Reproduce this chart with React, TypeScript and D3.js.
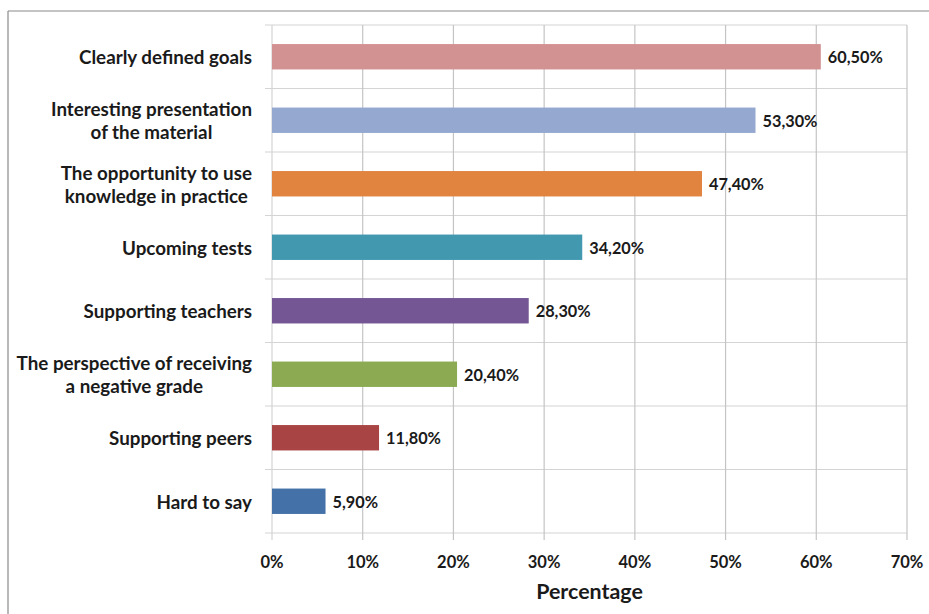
import React from "react";
import * as d3 from "d3";

const categories = [
  ["Clearly defined goals"],
  ["Interesting presentation", "of the material"],
  ["The opportunity to use", "knowledge in practice"],
  ["Upcoming tests"],
  ["Supporting teachers"],
  ["The perspective of receiving", "a negative grade"],
  ["Supporting peers"],
  ["Hard to say"],
];
const values = [60.5, 53.3, 47.4, 34.2, 28.3, 20.4, 11.8, 5.9];
const colors = ["#D39292", "#95A9D0", "#E0843F", "#4299AF", "#735693", "#8CAA52", "#A84444", "#4472A8"];
const xTicks = [0, 10, 20, 30, 40, 50, 60, 70];
const axisTitle = "Percentage";

const W = 929;
const H = 614;
const left = 272;
const right = 907;
const top = 25;
const bottom = 533;
const FONT = "Lato, 'Open Sans', sans-serif";
const CAT_FS = 18.8;

function CategoryLabel({ lines, cy }: { lines: string[]; cy: number }) {
  const ref = React.useRef<SVGTextElement>(null);
  const [w, setW] = React.useState(0);
  React.useEffect(() => {
    if (ref.current && lines.length > 1) setW(ref.current.getComputedTextLength());
  }, [lines]);
  const lh = 23;
  const multi = lines.length > 1 && w > 0;
  return (
    <g>
      {lines.map((ln, j) => (
        <text
          key={j}
          ref={j === 0 ? ref : undefined}
          x={multi ? 252 - w / 2 : 252}
          y={cy + (j - (lines.length - 1) / 2) * lh}
          dominantBaseline="central"
          textAnchor={multi ? "middle" : "end"}
          fontSize={CAT_FS}
          fontWeight="bold"
          fill="#1a1a1a"
        >
          {ln}
        </text>
      ))}
    </g>
  );
}

export default function App() {
  const x = d3.scaleLinear().domain([0, 70]).range([left, right]);
  const y = d3
    .scaleBand<number>()
    .domain(d3.range(categories.length))
    .range([top, bottom])
    .paddingInner(0.6)
    .paddingOuter(0.3);
  const step = y.step();
  const bounds = d3.range(categories.length + 1).map((i) => top + i * step);
  const fmt = (v: number) => v.toFixed(2).replace(".", ",") + "%";

  return (
    <svg
      width={W}
      height={H}
      style={{ position: "absolute", left: 0, top: 0, background: "#fff" }}
      fontFamily={FONT}
    >
      <line x1={8} y1={11} x2={W} y2={11} stroke="#8a8a8a" strokeWidth={1.2} />
      <line x1={8} y1={11} x2={8} y2={H} stroke="#8a8a8a" strokeWidth={1.2} />
      {bounds.map((b, i) => (
        <line key={"h" + i} x1={265} x2={right} y1={b} y2={b} stroke="#d4d4d4" strokeWidth={1.2} />
      ))}
      {xTicks.map((t) => (
        <line key={"v" + t} x1={x(t)} x2={x(t)} y1={top} y2={bottom + 7} stroke={t === 0 ? "#d4d4d4" : "#c4c4c4"} strokeWidth={1.2} />
      ))}
      {values.map((v, i) => (
        <rect key={"b" + i} x={x(0)} y={y(i)} width={x(v) - x(0)} height={y.bandwidth()} fill={colors[i]} />
      ))}
      {values.map((v, i) => (
        <text
          key={"l" + i}
          x={x(v) + 7}
          y={(y(i) as number) + y.bandwidth() / 2}
          dominantBaseline="central"
          fontSize={16.3}
          fontWeight="bold"
          fill="#1a1a1a"
        >
          {fmt(v)}
        </text>
      ))}
      {categories.map((lines, i) => (
        <CategoryLabel key={"c" + i} lines={lines} cy={(y(i) as number) + y.bandwidth() / 2} />
      ))}
      {xTicks.map((t) => (
        <text key={"t" + t} x={x(t)} y={562} textAnchor="middle" dominantBaseline="central" fontSize={16.5} fontWeight="bold" fill="#1a1a1a">
          {t + "%"}
        </text>
      ))}
      <text x={(left + right) / 2} y={591} textAnchor="middle" dominantBaseline="central" fontSize={21.4} fontWeight="bold" fill="#1a1a1a">
        {axisTitle}
      </text>
    </svg>
  );
}
